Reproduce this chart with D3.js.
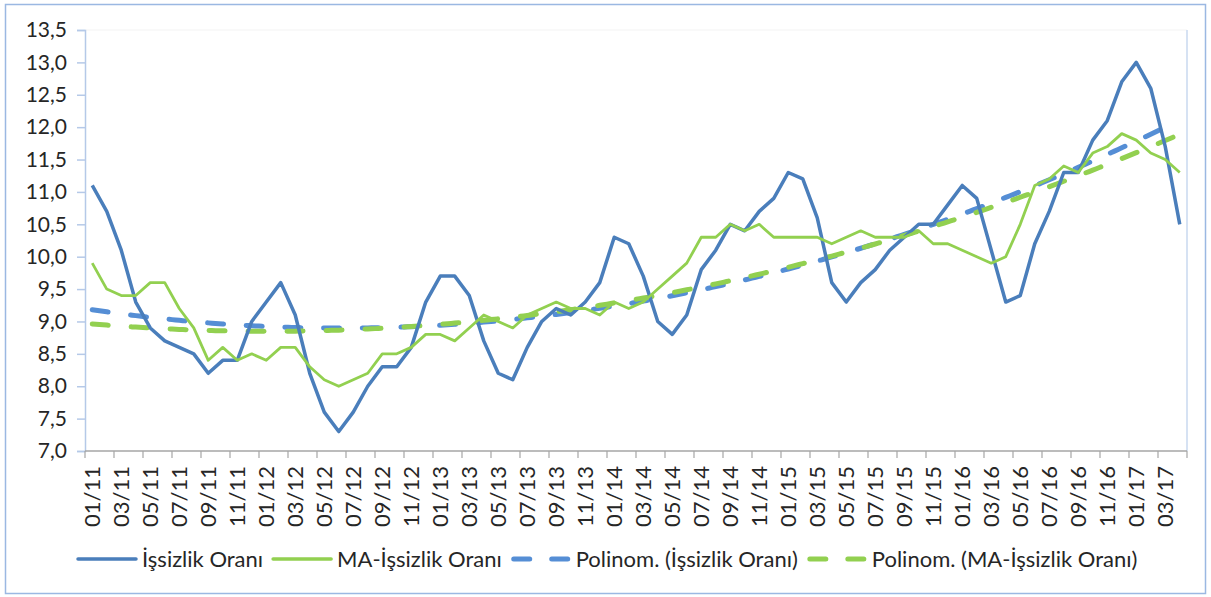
<!DOCTYPE html>
<head>
<meta charset="utf-8">
<script src="https://d3js.org/d3.v7.min.js"></script>
<style>
  body { margin: 0; background: #fff; }
  text { font-family: Lato, "Open Sans", sans-serif; fill: #262626; }
</style>
</head>
<body>
<svg></svg>
<script>
	// months 01/11 .. 04/17
	var months = [
		'01/11','02/11','03/11','04/11','05/11','06/11','07/11','08/11','09/11','10/11','11/11','12/11',
		'01/12','02/12','03/12','04/12','05/12','06/12','07/12','08/12','09/12','10/12','11/12','12/12',
		'01/13','02/13','03/13','04/13','05/13','06/13','07/13','08/13','09/13','10/13','11/13','12/13',
		'01/14','02/14','03/14','04/14','05/14','06/14','07/14','08/14','09/14','10/14','11/14','12/14',
		'01/15','02/15','03/15','04/15','05/15','06/15','07/15','08/15','09/15','10/15','11/15','12/15',
		'01/16','02/16','03/16','04/16','05/16','06/16','07/16','08/16','09/16','10/16','11/16','12/16',
		'01/17','02/17','03/17','04/17'
	];

	var issizlik = [
		11.1, 10.7, 10.1, 9.3, 8.9, 8.7, 8.6, 8.5, 8.2, 8.4, 8.4, 9.0,
		9.3, 9.6, 9.1, 8.2, 7.6, 7.3, 7.6, 8.0, 8.3, 8.3, 8.6, 9.3,
		9.7, 9.7, 9.4, 8.7, 8.2, 8.1, 8.6, 9.0, 9.2, 9.1, 9.3, 9.6,
		10.3, 10.2, 9.7, 9.0, 8.8, 9.1, 9.8, 10.1, 10.5, 10.4, 10.7, 10.9,
		11.3, 11.2, 10.6, 9.6, 9.3, 9.6, 9.8, 10.1, 10.3, 10.5, 10.5, 10.8,
		11.1, 10.9, 10.1, 9.3, 9.4, 10.2, 10.7, 11.3, 11.3, 11.8, 12.1, 12.7,
		13.0, 12.6, 11.7, 10.5
	];

	var maIssizlik = [
		9.9, 9.5, 9.4, 9.4, 9.6, 9.6, 9.2, 8.9, 8.4, 8.6, 8.4, 8.5,
		8.4, 8.6, 8.6, 8.3, 8.1, 8.0, 8.1, 8.2, 8.5, 8.5, 8.6, 8.8,
		8.8, 8.7, 8.9, 9.1, 9.0, 8.9, 9.1, 9.2, 9.3, 9.2, 9.2, 9.1,
		9.3, 9.2, 9.3, 9.5, 9.7, 9.9, 10.3, 10.3, 10.5, 10.4, 10.5, 10.3,
		10.3, 10.3, 10.3, 10.2, 10.3, 10.4, 10.3, 10.3, 10.3, 10.4, 10.2, 10.2,
		10.1, 10.0, 9.9, 10.0, 10.5, 11.1, 11.2, 11.4, 11.3, 11.6, 11.7, 11.9,
		11.8, 11.6, 11.5, 11.3
	];

	var yTicks = [7.0, 7.5, 8.0, 8.5, 9.0, 9.5, 10.0, 10.5, 11.0, 11.5, 12.0, 12.5, 13.0, 13.5];

	var legendNames = ['İşsizlik Oranı', 'MA-İşsizlik Oranı', 'Polinom. (İşsizlik Oranı)', 'Polinom. (MA-İşsizlik Oranı)'];

	var W = 1211, H = 597;
	var pLeft = 85, pRight = 1187, pTop = 30, pBottom = 451;
	var blue = '#4A7EBB', green = '#92D050', blueTrend = '#558ED5';

	var svg = d3.select('svg').attr('width', W).attr('height', H);

	svg.append('rect')
		.attr('x', 5.5).attr('y', 4.5)
		.attr('width', 1200).attr('height', 589)
		.attr('fill', '#fff')
		.attr('stroke', '#9BB8E2').attr('stroke-width', 1.5);

	var x = d3.scaleBand().domain(months).range([pLeft, pRight]);
	var y = d3.scaleLinear().domain([7, 13.5]).range([pBottom, pTop]);
	var cx = function (i) { return x(months[i]) + x.bandwidth() / 2; };
	// continuous index -> pixel, for the trend curves
	var xi = d3.scaleLinear().domain([0, months.length - 1]).range([cx(0), cx(months.length - 1)]);

	// plot area border (faint)
	svg.append('line').attr('x1', pLeft).attr('x2', pRight).attr('y1', pTop).attr('y2', pTop)
		.attr('stroke', '#F3F3F3');
	svg.append('line').attr('x1', pRight).attr('x2', pRight).attr('y1', pTop).attr('y2', pBottom)
		.attr('stroke', '#C9D9EF').attr('stroke-width', 1.5);

	/* ----------- y axis ----------- */
	var yAxis = svg.append('g')
		.attr('transform', 'translate(' + pLeft + ',0)')
		.call(d3.axisLeft(y).tickValues(yTicks).tickSize(8).tickPadding(10)
			.tickFormat(function (d) { return d3.format('.1f')(d).replace('.', ','); }));
	yAxis.select('.domain').attr('stroke', '#B5C9E8').attr('stroke-width', 1.5);
	yAxis.selectAll('.tick line').attr('stroke', '#B5C9E8').attr('stroke-width', 1.5);
	yAxis.selectAll('.tick text').attr('font-size', 21).attr('fill', '#262626')
		.attr('font-family', 'Lato, sans-serif');

	/* ----------- x axis ----------- */
	var xAxis = svg.append('g').attr('transform', 'translate(0,' + pBottom + ')');
	xAxis.append('line').attr('x1', pLeft).attr('x2', pRight)
		.attr('stroke', '#A6A6A6').attr('stroke-width', 1.5);
	var tickIdx = d3.range(0, months.length + 1, 2);
	xAxis.selectAll('line.tk').data(tickIdx).enter().append('line')
		.attr('class', 'tk')
		.attr('x1', function (d) { return d < months.length ? x(months[d]) : pRight; })
		.attr('x2', function (d) { return d < months.length ? x(months[d]) : pRight; })
		.attr('y1', 0).attr('y2', 7)
		.attr('stroke', '#A6A6A6').attr('stroke-width', 1.2);
	xAxis.selectAll('text').data(months.filter(function (d, i) { return i % 2 === 0; })).enter().append('text')
		.attr('transform', function (d) { return 'translate(' + (x(d) + x.bandwidth() / 2 + 8) + ',15) rotate(-90)'; })
		.attr('text-anchor', 'end')
		.attr('font-size', 22)
		.text(function (d) { return d; });

	/* ----------- trend lines (order 2 polynomial fit) ----------- */
	function polyFit(vals) {
		var s = [0, 0, 0, 0, 0], t = [0, 0, 0];
		vals.forEach(function (v, i) {
			var p = 1;
			for (var k = 0; k < 5; k++) { s[k] += p; if (k < 3) t[k] += v * p; p *= i; }
		});
		var A = [[s[0], s[1], s[2], t[0]], [s[1], s[2], s[3], t[1]], [s[2], s[3], s[4], t[2]]];
		for (var c = 0; c < 3; c++) {
			for (var r = c + 1; r < 3; r++) {
				var f = A[r][c] / A[c][c];
				for (var k2 = c; k2 < 4; k2++) A[r][k2] -= f * A[c][k2];
			}
		}
		var b = [0, 0, 0];
		for (var r2 = 2; r2 >= 0; r2--) {
			var sum = A[r2][3];
			for (var k3 = r2 + 1; k3 < 3; k3++) sum -= A[r2][k3] * b[k3];
			b[r2] = sum / A[r2][r2];
		}
		return function (i) { return b[0] + b[1] * i + b[2] * i * i; };
	}

	var steps = d3.range(0, months.length - 1 + 0.001, 0.25);
	var trendLine = d3.line()
		.x(function (d) { return xi(d.i); })
		.y(function (d) { return y(d.v); });

	var fitBlue = polyFit(issizlik), fitGreen = polyFit(maIssizlik);

	svg.append('path')
		.datum(steps.map(function (i) { return {i: i, v: fitBlue(i)}; }))
		.attr('d', trendLine)
		.attr('fill', 'none').attr('stroke', blueTrend).attr('stroke-width', 5)
		.attr('stroke-dasharray', '16,22.7').attr('stroke-linecap', 'round');

	svg.append('path')
		.datum(steps.map(function (i) { return {i: i, v: fitGreen(i)}; }))
		.attr('d', trendLine)
		.attr('fill', 'none').attr('stroke', green).attr('stroke-width', 5)
		.attr('stroke-dasharray', '16,23').attr('stroke-linecap', 'round');

	/* ----------- series ----------- */
	var line = d3.line()
		.x(function (d, i) { return cx(i); })
		.y(function (d) { return y(d); });

	svg.append('path').datum(issizlik).attr('d', line)
		.attr('fill', 'none').attr('stroke', blue).attr('stroke-width', 3.5)
		.attr('stroke-linejoin', 'round');

	svg.append('path').datum(maIssizlik).attr('d', line)
		.attr('fill', 'none').attr('stroke', green).attr('stroke-width', 2.8)
		.attr('stroke-linejoin', 'round');

	/* ----------- legend ----------- */
	var legendStyles = [
		{color: blue, width: 3.5, dash: null},
		{color: green, width: 3.5, dash: null},
		{color: blueTrend, width: 5, dash: '16,22'},
		{color: green, width: 5, dash: '16,22'}
	];
	var legend = svg.append('g').attr('transform', 'translate(0,559)');
	var lx = 76;
	legendNames.forEach(function (name, k) {
		var st = legendStyles[k];
		var ln = legend.append('line')
			.attr('x1', lx + 2).attr('x2', lx + 60).attr('y1', 0).attr('y2', 0)
			.attr('stroke', st.color).attr('stroke-width', st.width)
			.attr('stroke-linecap', 'round');
		if (st.dash) ln.attr('stroke-dasharray', st.dash).attr('x1', lx + 4).attr('x2', lx + 60);
		var t = legend.append('text')
			.attr('x', lx + 66).attr('y', 7.5)
			.attr('font-size', 22)
			.text(name);
		lx += 66 + t.node().getComputedTextLength() + 8;
	});
</script>
</body>
